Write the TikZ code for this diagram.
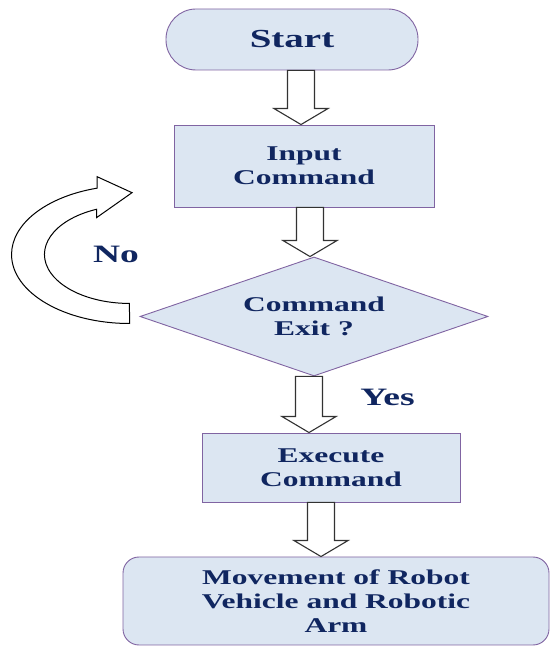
\documentclass[tikz,border=0pt]{standalone}
\usepackage{fontspec}
\setmainfont{Liberation Serif}[FakeStretch=1.5]
\usetikzlibrary{shapes.geometric,calc}
\definecolor{boxfill}{RGB}{220,230,242}
\definecolor{boxline}{RGB}{128,100,162}
\definecolor{navytext}{RGB}{16,38,96}
\definecolor{arrowline}{RGB}{50,50,50}
\tikzset{
         flowbox/.style={draw=boxline,fill=boxfill,line width=0.9pt,text=navytext,align=center,
                         font=\bfseries\fontsize{21}{24}\selectfont,inner sep=0pt},
         startbox/.style={flowbox,rounded corners=30pt,font=\bfseries\fontsize{26}{30}\selectfont},
         decisionbox/.style={flowbox,diamond,aspect=2.9},
         hollow/.style={draw=arrowline,fill=white,line width=1.1pt,line join=miter},
         answer/.style={text=navytext,font=\bfseries\fontsize{25}{30}\selectfont}
        }
% hollow block arrow: #1 = x, #2 = from node, #3 = to node
\newcommand{\hollowdown}[3]{%
  \draw[hollow] ($(#1,0 |- #2.south)+(-13.5,0)$) -- ($(#1,0 |- #3.north)+(-13.5,16)$) -- ++(-13.5,0)
    -- (#1,0 |- #3.north) -- ++(27,16) -- ++(-13.5,0) -- ($(#1,0 |- #2.south)+(13.5,0)$) -- cycle;}
\begin{document}
\begin{tikzpicture}[x=1pt,y=1pt]
\useasboundingbox (0,0) rectangle (550,648);
\node[startbox,minimum width=252pt,minimum height=61pt] (start) at (292,608.5) {Start}; % start
\node[flowbox,minimum width=260pt,minimum height=82pt] (input) at (304,482) {Input\\Command}; % input
\node[decisionbox,minimum width=348pt,minimum height=119pt] (exit) at (314,331.5) {Command\\Exit ?}; % decision
\node[flowbox,minimum width=258pt,minimum height=69pt] (execute) at (331,180.5) {Execute\\Command}; % execute
\node[flowbox,rounded corners=16pt,minimum width=426pt,minimum height=88pt] (move) at (336,47)
  {Movement of Robot\\Vehicle and Robotic\\Arm}; % result
\node[answer] (no) at (116,394) {No}; % No label
\node[answer] (yes) at (387.5,251) {Yes}; % Yes label
\hollowdown{301}{start}{input}
\hollowdown{310}{input}{exit}
\hollowdown{309}{exit}{execute}
\hollowdown{321}{execute}{move}
\coordinate (loop) at ($(exit.west)+(-10,-7)$); % tail of the No arrow
\draw[hollow,draw=black,line width=1pt] (loop) arc[start angle=270,end angle=106,x radius=118,y radius=69]
  -- ++(0,11.5) -- ++(35,-16) -- ++(-35.5,-25) -- ++(0,8.4)
  arc[start angle=112.8,end angle=270,x radius=85,y radius=49] -- cycle; % No loop
\end{tikzpicture}
\end{document}
